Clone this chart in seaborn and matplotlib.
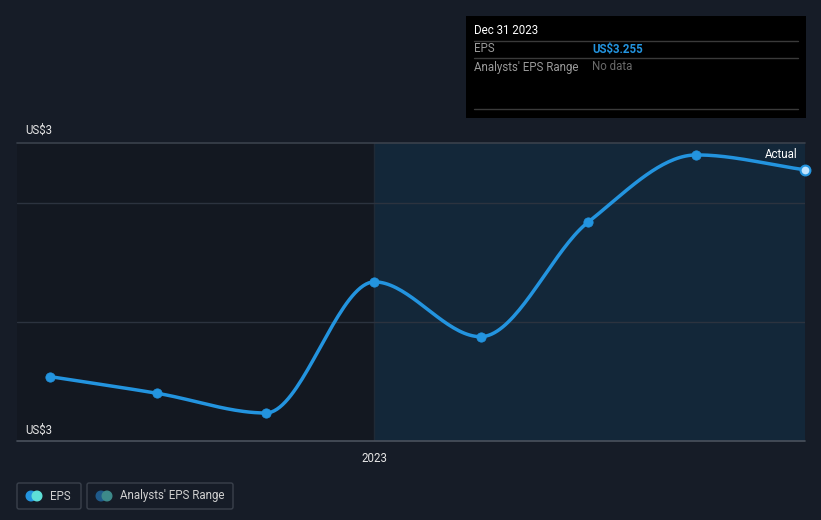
import numpy as np
import pandas as pd
import matplotlib
matplotlib.use("Agg")
import matplotlib.pyplot as plt
import matplotlib.dates as mdates
import seaborn as sns
from matplotlib.patches import FancyBboxPatch, Circle

# ---- data ----
dates = ["2022-03-31", "2022-06-30", "2022-09-30", "2022-12-31",
         "2023-03-31", "2023-06-30", "2023-09-30", "2023-12-31"]
eps = [2.908, 2.880, 2.847, 3.067, 2.975, 3.167, 3.280, 3.255]
y_labels = ["US$3", "US$3"]
x_tick_label = "2023"
tooltip_date = "Dec 31 2023"
tooltip_eps = "US$3.255"

BG = "#161c27"
PLOT_LEFT = "#131821"
SHADE = "#132739"
LINE = "#2394df"
GRID = "#2c333f"

sns.set_theme(style="dark")
plt.rcParams["font.family"] = ["Roboto", "DejaVu Sans"]

fig = plt.figure(figsize=(8.21, 5.2), dpi=100, facecolor=BG)
ax = fig.add_axes([17 / 821, 1 - 441 / 520, 788 / 821, 298 / 520])
ax.set_facecolor(PLOT_LEFT)

df = pd.DataFrame({"date": pd.to_datetime(dates), "eps": eps})
xn = mdates.date2num(df["date"])
yv = np.array(eps)

# monotone cubic (Fritsch-Carlson) smoothing of the line between points
h = np.diff(xn)
d = np.diff(yv) / h
m = np.zeros_like(yv)
m[0], m[-1] = d[0], d[-1]
for i in range(1, len(yv) - 1):
    if d[i - 1] * d[i] <= 0:
        m[i] = 0
    else:
        w1 = 2 * h[i] + h[i - 1]
        w2 = h[i] + 2 * h[i - 1]
        m[i] = (w1 + w2) / (w1 / d[i - 1] + w2 / d[i])
xs, ys = [], []
for i in range(len(h)):
    t = np.linspace(0, 1, 40)
    h00 = 2 * t**3 - 3 * t**2 + 1
    h10 = t**3 - 2 * t**2 + t
    h01 = -2 * t**3 + 3 * t**2
    h11 = t**3 - t**2
    xs.append(xn[i] + t * h[i])
    ys.append(h00 * yv[i] + h10 * h[i] * m[i] + h01 * yv[i + 1] + h11 * h[i] * m[i + 1])
curve = pd.DataFrame({"date": mdates.num2date(np.concatenate(xs)), "eps": np.concatenate(ys)})
curve["date"] = pd.to_datetime(curve["date"]).dt.tz_localize(None)

x0 = pd.Timestamp("2022-03-03")
x1 = pd.Timestamp("2023-12-31")
ax.set_xlim(x0, x1)
ax.set_ylim(2.8, 3.3)

ax.axvspan(pd.Timestamp("2022-12-31"), x1, color=SHADE, zorder=0, lw=0)
ax.axvline(pd.Timestamp("2022-12-31"), color="#1f2a36", lw=1, zorder=0.5)
for yy in [3.0, 3.2]:
    ax.axhline(yy, color=GRID, lw=1, zorder=0.6)
ax.axhline(3.3, color="#3a414c", lw=1.2, zorder=0.6, clip_on=False)
ax.axhline(2.8, color="#4a515c", lw=1.2, zorder=0.6, clip_on=False)

sns.lineplot(data=curve, x="date", y="eps", ax=ax, color=LINE, lw=2.5, zorder=3, legend=False)
sns.scatterplot(data=df.iloc[:-1], x="date", y="eps", ax=ax, color=LINE, s=45,
                edgecolor=LINE, zorder=4, legend=False)
sns.scatterplot(data=df.iloc[-1:], x="date", y="eps", ax=ax, color="#bfe3ff", s=50,
                edgecolor=LINE, linewidth=1.5, zorder=5, legend=False, clip_on=False)

for s in ax.spines.values():
    s.set_visible(False)
ax.set_xlabel("")
ax.set_ylabel("")
ax.set_yticks([])
ax.set_xticks([pd.Timestamp("2022-12-31")])
ax.set_xticklabels([x_tick_label], color="#e6e6e6", fontsize=8.3)
ax.tick_params(axis="x", length=4, color="#4a515c", pad=4)
ax.grid(False)

# y labels
fig.text(25 / 821, 1 - 130 / 520, y_labels[0], color="#e6e6e6", fontsize=8.3, va="center", ha="left")
fig.text(25 / 821, 1 - 430 / 520, y_labels[1], color="#e6e6e6", fontsize=8.3, va="center", ha="left")
fig.text(797 / 821, 1 - 154 / 520, "Actual", color="#ffffff", fontsize=8.3, va="center", ha="right")

# tooltip box
tip = fig.add_axes([466 / 821, 1 - 118 / 520, 340 / 821, 102 / 520])
tip.set_xlim(0, 340)
tip.set_ylim(102, 0)
tip.set_facecolor("#000000")
for s in tip.spines.values():
    s.set_visible(False)
tip.set_xticks([])
tip.set_yticks([])
for yy in [25, 42, 93]:
    tip.plot([8, 332], [yy, yy], color="#3a3a3a", lw=1)
tip.text(8, 15, tooltip_date, color="#ffffff", fontsize=8.3, va="center")
tip.text(8, 33, "EPS", color="#9a9a9a", fontsize=8.3, va="center")
tip.text(126, 33, tooltip_eps, color="#2394df", fontsize=8.3, va="center", fontweight="bold")
tip.text(8, 51, "Analysts' EPS Range", color="#9a9a9a", fontsize=8.3, va="center")
tip.text(126, 51, "No data", color="#6a6a6a", fontsize=8.3, va="center")

# legend boxes
lg = fig.add_axes([0, 0, 1, 1], facecolor="none")
lg.set_xlim(0, 821)
lg.set_ylim(520, 0)
lg.axis("off")
for (bx, bw, c1, c2, label) in [(17, 64, "#2394df", "#5ee0d8", "EPS"),
                                 (87, 146, "#1f5a8a", "#3d8a8a", "Analysts' EPS Range")]:
    lg.add_patch(FancyBboxPatch((bx, 483), bw, 26, boxstyle="round,pad=0,rounding_size=2",
                                fc="none", ec="#3a414c", lw=1))
    lg.add_patch(Circle((bx + 14, 496), 4.8, color=c1))
    lg.add_patch(Circle((bx + 20, 496), 4.8, color=c2))
    lg.text(bx + 33, 496, label, color="#d0d0d0", fontsize=8.3, va="center")

fig.savefig("out.png", dpi=100, facecolor=BG)
